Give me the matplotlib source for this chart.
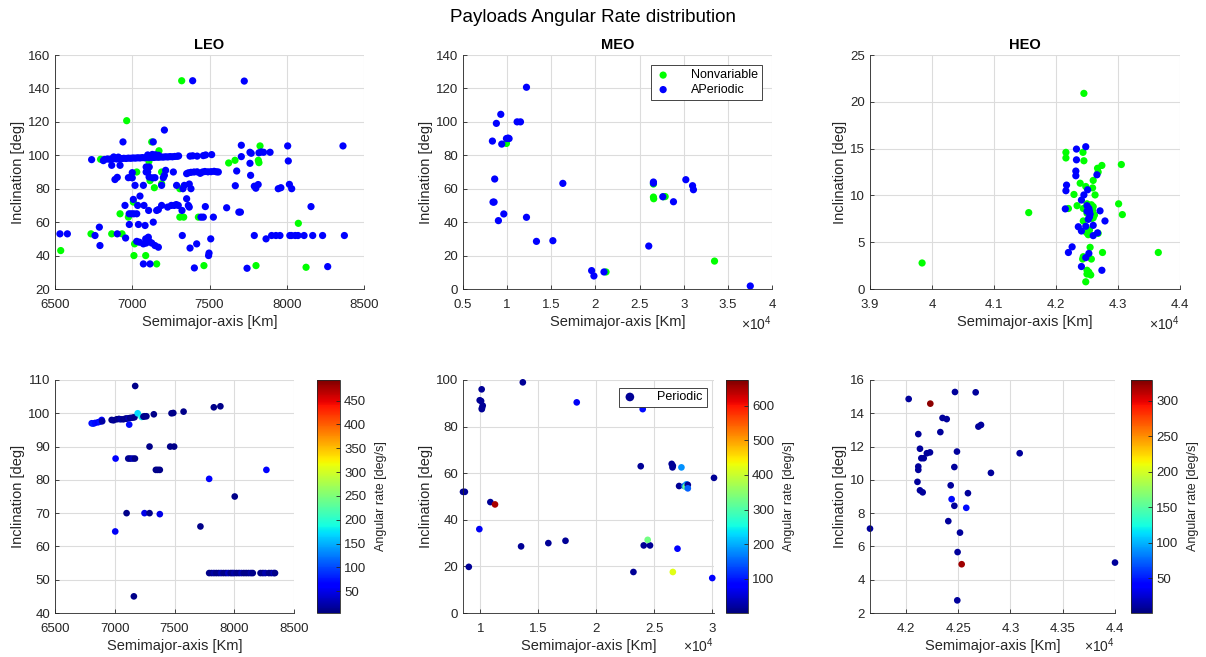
import numpy as np
import matplotlib
matplotlib.use('Agg')
import matplotlib.pyplot as plt
from matplotlib.ticker import FuncFormatter

plt.rcParams['font.family'] = ['Liberation Sans', 'DejaVu Sans']
plt.rcParams['mathtext.fontset'] = 'custom'
plt.rcParams['mathtext.rm'] = 'Liberation Sans'
plt.rcParams['mathtext.it'] = 'Liberation Sans'

# ---- data : (semimajor axis [km], inclination [deg]) ----
leo_nonvar = np.array([
    (7320, 144.6), (6964, 120.7), (6537, 43), (6733, 53), (6795, 97.6), (6867, 53), (6921, 65),
    (6934, 53), (6975, 63), (7011, 40), (7015, 47), (7007, 72), (7029, 90), (7087, 40), (7126, 108),
    (7108, 96.4), (7115, 84.8), (7158, 35), (7143, 80.6), (7173, 102.7), (7190, 90), (7190, 83),
    (7308, 80), (7308, 63), (7333, 63), (7428, 63), (7464, 34), (7624, 95.4), (7665, 97),
    (7827, 105.6), (7816, 97), (7820, 95.6), (7801, 34), (8075, 59.3), (8125, 33)])

leo_aper = np.array([
    (6737, 97.4), (6813, 96.8), (6820, 97.5), (6840, 97.8), (6855, 97.6), (6870, 97.9), (6880, 99.0),
    (6885, 98.0), (6900, 97.8), (6910, 98.9), (6915, 98.1), (6930, 98.0), (6945, 98.2), (6960, 98.1),
    (6975, 98.3), (6990, 98.2), (7005, 98.4), (7020, 98.3), (7035, 98.5), (7050, 98.4), (7065, 98.6),
    (7080, 98.5), (7095, 98.7), (7100, 100.2), (7110, 98.6), (7125, 98.8), (7130, 100.5),
    (7140, 98.7), (7150, 100.3), (7155, 98.9), (7170, 98.8), (7170, 100.0), (7185, 99.0),
    (7200, 98.9), (7215, 99.1), (7230, 99.0), (7245, 99.2), (7260, 99.1), (7275, 99.3),
    (7290, 99.4), (7300, 99.6),
    (7352, 89.0), (7363, 89.5), (7380, 89.8), (7400, 90.0), (7420, 90.1), (7440, 89.2), (7455, 90.0),
    (7470, 90.3), (7490, 90.1), (7510, 90.2), (7530, 90.4), (7545, 90.1), (7557, 90.0),
    (7374, 99.5), (7391, 99.7), (7420, 99.5), (7460, 99.8), (7475, 100.2), (7514, 100.4),
    (7391, 144.6), (7725, 144.4), (7208, 115.1), (6940, 108), (7136, 108), (8364, 105.6),
    (7706, 106), (8006, 105.6), (7762, 101.8), (7770, 101.2), (7820, 101.5), (7835, 102),
    (7850, 101.8), (7892, 101.8), (7706, 99.2), (8010, 96.6), (7762, 95.2), (7766, 88),
    (7790, 81.5), (7800, 80.3), (7815, 82.5), (7945, 80), (7962, 80.6), (8017, 82.6), (8032, 80),
    (7667, 81.8), (7676, 90.6), (7690, 66), (7700, 66), (7611, 68.6), (8157, 69.3),
    (8373, 52), (8232, 52), (8168, 52), (8112, 52), (8073, 52), (8055, 52), (8030, 52), (8020, 52),
    (7956, 52), (7930, 52), (7902, 52), (7866, 50), (7790, 52),
    (7743, 32.4), (8265, 33.4), (7508, 50), (7494, 40), (7497, 41.5), (7417, 47), (7374, 44.5),
    (7402, 32.6), (7324, 52), (7525, 63), (7473, 69.3), (7445, 63), (7460, 63), (7363, 70),
    (7369, 69), (7352, 74), (7322, 67), (7229, 69), (7253, 70), (7272, 70), (7285, 70.5),
    (7298, 70), (7190, 70), (7158, 67), (7169, 67.5), (7106, 67), (7136, 60), (7076, 70),
    (6953, 70), (7050, 75.6), (7007, 73.6), (7035, 70), (7018, 82), (7072, 82), (6980, 65),
    (6995, 65), (7010, 65), (7029, 65), (6981, 58.6), (7040, 58.6), (7083, 58), (6787, 57),
    (6759, 52), (6791, 46), (6532, 53), (6580, 53), (6903, 53), (6957, 50.5), (7029, 48.5),
    (7046, 48), (7072, 47), (7090, 47.5), (7110, 48.5), (7126, 47.5), (7147, 46), (7169, 45),
    (7087, 50), (7104, 51), (7072, 35), (7115, 35), (7100, 90), (7110, 93), (7109, 87),
    (7132, 86.5), (7147, 86.6), (7201, 86.6), (6975, 86.6), (6990, 86.8), (7000, 86.5),
    (6888, 85.5), (6903, 86.8), (6867, 94), (6921, 94), (7190, 82), (7216, 91), (7208, 88),
    (7266, 90), (7287, 82), (7337, 82), (7328, 80), (7369, 82.8), (7380, 80), (7000, 89.6),
    (7090, 93), (7090, 90)])

meo_nonvar = np.array([
    (9920, 87.1), (26570, 62.8), (26570, 55), (26600, 54), (27700, 55.2), (27900, 55.3),
    (21200, 10.2), (33490, 16.7)])

meo_aper = np.array([
    (12190, 120.7), (9280, 104.5), (8780, 99.1), (11130, 100), (11510, 100), (8330, 88.5),
    (9390, 86.7), (9920, 90), (10220, 90), (10100, 90.3), (8590, 65.8), (8400, 52), (8520, 52),
    (9620, 44.9), (9010, 40.9), (12190, 42.9), (13320, 28.5), (15180, 28.9), (16310, 63.2),
    (19570, 11), (19830, 7.8), (20970, 10.2), (26040, 25.7), (26570, 64), (26570, 63.3),
    (27630, 55.2), (28840, 52.2), (30240, 65.4), (31000, 61.8), (31100, 59.4), (37540, 1.8)])

heo_nonvar = np.array([
    (39840, 2.78), (41560, 8.16), (42450, 20.9), (42160, 14.6), (42160, 14.0), (42435, 14.6),
    (42450, 13.7), (42740, 13.2), (42670, 12.9), (42680, 12.5), (43054, 13.3), (42200, 8.6),
    (42290, 10.1), (42340, 8.9), (42390, 11.3), (42480, 10.95), (42600, 11.6), (42590, 10.8),
    (42630, 10.05), (42570, 9.0), (42590, 8.4), (42550, 8.0), (42580, 7.55), (42440, 7.27),
    (42490, 6.05), (42520, 5.8), (42680, 5.95), (42550, 4.45), (42750, 3.9), (42440, 3.45),
    (42430, 3.2), (42570, 3.2), (42500, 2.0), (42530, 1.8), (42500, 1.6), (42560, 1.5),
    (42480, 0.77), (43010, 9.1), (43070, 7.95), (43650, 3.9), (42440, 8.6), (42500, 9.1),
    (42600, 8.8), (42620, 7.9), (42600, 7.6), (42500, 8.1), (42540, 6.3)])

heo_aper = np.array([
    (42480, 15.2), (42330, 14.95), (42330, 13.8), (42320, 12.6), (42320, 12.1), (42660, 12.2),
    (42170, 11.1), (42160, 10.5), (42510, 10.6), (42450, 10.05), (42410, 9.5), (42150, 8.56),
    (42500, 8.9), (42530, 8.6), (42540, 8.3), (42500, 8.3), (42550, 8.0), (42540, 7.7),
    (42710, 8.35), (42790, 7.27), (42520, 7.44), (42360, 6.65), (42410, 6.2), (42480, 6.7),
    (42600, 6.8), (42600, 5.7), (42670, 6.0), (42260, 4.5), (42200, 3.9), (42530, 3.8),
    (42480, 3.35), (42410, 2.4), (42740, 2.0)])

# periodic objects : (semimajor axis [km], inclination [deg], angular rate [deg/s])
leo_per = np.array([
    (6807, 97.0, 70), (6820, 96.9, 80), (6835, 97.1, 70), (6860, 97.3, 60), (6877, 97.5, 75),
    (6891, 98.0, 65), (6895, 97.6, 20), (6974, 98.0, 10), (6990, 97.9, 15), (7016, 98.2, 10),
    (7035, 98.3, 12), (7050, 98.2, 20), (7072, 98.2, 10), (7090, 98.4, 15), (7100, 98.4, 10),
    (7115, 98.5, 25), (7130, 98.6, 10), (7150, 98.7, 15), (7165, 98.8, 10), (7121, 96.6, 70),
    (7192, 100.0, 170), (7225, 98.9, 185), (7240, 99.0, 15), (7250, 99.1, 10), (7265, 99.1, 12),
    (7327, 99.7, 10), (7475, 100.0, 10), (7490, 100.1, 10), (7576, 100.5, 10), (7829, 101.8, 10),
    (7884, 102.1, 10), (7171, 108.2, 10), (7291, 90.0, 10), (7464, 90.0, 10), (7497, 90.0, 10),
    (7007, 86.4, 60), (7113, 86.4, 15), (7130, 86.4, 10), (7150, 86.4, 30), (7169, 86.4, 10),
    (7344, 83.0, 10), (7360, 83.0, 10), (7377, 83.0, 10), (8269, 83.0, 60), (7790, 80.3, 60),
    (8004, 75.0, 10), (7099, 70.0, 10), (7249, 70.0, 50), (7291, 70.0, 10), (7377, 69.7, 50),
    (7004, 64.5, 55), (7717, 66.0, 10), (7160, 45.0, 10),
    (7790, 52, 10), (7810, 52, 10), (7830, 52, 20), (7850, 52, 10), (7870, 52, 10), (7890, 52, 25),
    (7910, 52, 10), (7930, 52, 10), (7950, 52, 30), (7970, 52, 10), (7985, 52, 10), (8000, 52, 20),
    (8020, 52, 10), (8040, 52, 10), (8060, 52, 25), (8080, 52, 10), (8100, 52, 10), (8120, 52, 10),
    (8140, 52, 20), (8155, 52, 10), (8220, 52, 10), (8240, 52, 10), (8260, 52, 25), (8290, 52, 10),
    (8310, 52, 10), (8330, 52, 30), (8341, 52, 10)])

meo_per = np.array([
    (13660, 99, 15), (10110, 96, 15), (9940, 91.3, 15), (10060, 91, 15), (10200, 89, 15),
    (10140, 88, 15), (10120, 87.5, 15), (18310, 90.4, 70), (24000, 87.5, 90), (8500, 52, 15),
    (8660, 52, 15), (10860, 47.6, 15), (11260, 46.6, 650), (9910, 36, 70), (9000, 19.8, 15),
    (13510, 28.6, 15), (15860, 30, 15), (17340, 31, 15), (23200, 17.6, 15), (24090, 29, 15),
    (24630, 29, 15), (24430, 31.4, 330), (23830, 63, 15), (26500, 64, 15), (26600, 63.2, 15),
    (26570, 62.5, 15), (27340, 62.5, 180), (27140, 54.5, 15), (27600, 54.5, 150),
    (27770, 55.2, 180), (27700, 54.2, 320), (27890, 55, 15), (27890, 53.5, 150),
    (26600, 17.6, 420), (27000, 27.6, 75), (30000, 15, 75), (30150, 58, 15)])

heo_per = np.array([
    (41656, 7.07, 10), (42026, 14.86, 10), (42233, 14.58, 325), (42469, 15.28, 10),
    (42667, 15.26, 10), (42350, 13.72, 10), (42390, 13.65, 10), (42329, 12.87, 10),
    (42118, 12.75, 10), (42693, 13.2, 10), (42718, 13.3, 10), (42134, 11.87, 10),
    (42200, 11.6, 10), (42230, 11.65, 10), (42147, 11.3, 10), (42170, 11.3, 10),
    (42118, 10.8, 10), (42118, 10.6, 10), (42110, 9.88, 10), (42134, 9.37, 10),
    (42160, 9.25, 10), (42488, 11.7, 10), (42463, 10.77, 10), (43088, 11.6, 10),
    (42813, 10.42, 10), (42428, 9.67, 10), (42437, 8.84, 45), (42593, 9.2, 10),
    (42463, 8.44, 10), (42577, 8.32, 45), (42405, 7.52, 10), (42517, 6.83, 10),
    (42494, 5.66, 10), (42533, 4.93, 320), (42491, 2.76, 10), (44000, 5.03, 10)])

# colour limits of the colorbars
leo_clim = (4.5, 493)
meo_clim = (0.4, 675)
heo_clim = (1.3, 329)

W, H = 1206, 657
fig = plt.figure(figsize=(W / 100, H / 100), dpi=100)
dark = '#262626'


def px_axes(left, top, right, bottom):
    return fig.add_axes([left / W, 1 - bottom / H, (right - left) / W, (bottom - top) / H])


def style(ax, xlim, ylim, xticks, yticks, scaled=False, offset_y=-0.15):
    ax.set_xlim(xlim)
    ax.set_ylim(ylim)
    ax.set_xticks(xticks)
    ax.set_yticks(yticks)
    for s in ['top', 'right']:
        ax.spines[s].set_visible(False)
    for s in ['left', 'bottom']:
        ax.spines[s].set_color(dark)
        ax.spines[s].set_linewidth(0.6)
    ax.tick_params(direction='in', length=3, width=0.6, colors=dark, labelsize=9.5)
    ax.tick_params(axis='x', pad=7)
    ax.tick_params(axis='y', pad=3.5)
    ax.grid(True, color='#dcdcdc', linewidth=0.8)
    ax.set_axisbelow(True)
    ax.set_xlabel('Semimajor-axis [Km]', fontsize=10.5, color=dark, labelpad=3)
    ax.set_ylabel('Inclination [deg]', fontsize=10.5, color=dark, labelpad=2)
    if scaled:
        ax.xaxis.set_major_formatter(FuncFormatter(lambda v, p: '%g' % round(v / 1e4, 4)))
        ax.text(1.0, offset_y, r'$\times\mathregular{10^{4}}$', transform=ax.transAxes,
                ha='right', va='center', fontsize=10, color=dark)


green = '#00ff00'
blue = '#0000ff'
s_top = 27
s_bot = 23

# ---- top row ----
ax1 = px_axes(55, 55, 364, 289)
ax1.scatter(leo_nonvar[:, 0], leo_nonvar[:, 1], s=s_top, c=green, edgecolors='none', clip_on=False)
ax1.scatter(leo_aper[:, 0], leo_aper[:, 1], s=s_top, c=blue, edgecolors='none', clip_on=False)
style(ax1, (6500, 8500), (20, 160), range(6500, 8501, 500), range(20, 161, 20))
ax1.set_title('LEO', fontsize=10.5, fontweight='bold', color='black', pad=4)

ax2 = px_axes(463, 55, 772, 289)
ax2.scatter(meo_nonvar[:, 0], meo_nonvar[:, 1], s=s_top, c=green, edgecolors='none',
            clip_on=False, label='Nonvariable')
ax2.scatter(meo_aper[:, 0], meo_aper[:, 1], s=s_top, c=blue, edgecolors='none',
            clip_on=False, label='APeriodic')
style(ax2, (5000, 40000), (0, 140), range(5000, 40001, 5000), range(0, 141, 20), scaled=True)
ax2.set_title('MEO', fontsize=10.5, fontweight='bold', color='black', pad=4)
leg = ax2.legend(loc='upper right', fontsize=9, fancybox=False, edgecolor=dark, framealpha=1,
                 borderaxespad=0.8, handletextpad=1.6, borderpad=0.35, labelspacing=0.2,
                 handlelength=1.2)
leg.get_frame().set_linewidth(0.6)

ax3 = px_axes(870, 55, 1180, 289)
ax3.scatter(heo_nonvar[:, 0], heo_nonvar[:, 1], s=s_top, c=green, edgecolors='none', clip_on=False)
ax3.scatter(heo_aper[:, 0], heo_aper[:, 1], s=s_top, c=blue, edgecolors='none', clip_on=False)
style(ax3, (39000, 44000), (0, 25), range(39000, 44001, 1000), range(0, 26, 5), scaled=True)
ax3.set_title('HEO', fontsize=10.5, fontweight='bold', color='black', pad=4)


# ---- bottom row (periodic, coloured by angular rate) ----
def bottom(left, right, cb_left, cb_right, data, clim, xlim, ylim, xticks, yticks, cticks,
           scaled, legend=False):
    ax = px_axes(left, 380, right, 613)
    sc = ax.scatter(data[:, 0], data[:, 1], s=s_bot, c=data[:, 2], cmap='jet',
                    vmin=clim[0], vmax=clim[1], edgecolors='none', clip_on=False,
                    label='Periodic')
    style(ax, xlim, ylim, xticks, yticks, scaled=scaled, offset_y=-0.14)
    if legend:
        lg = ax.legend(loc='upper right', fontsize=9, fancybox=False, edgecolor=dark,
                       framealpha=1, borderaxespad=0.6, handletextpad=1.6, markerscale=1.3,
                       borderpad=0.3, handlelength=1.2, bbox_to_anchor=(1.0, 1.0))
        lg.get_frame().set_linewidth(0.6)
    cax = px_axes(cb_left, 380, cb_right, 613)
    cb = fig.colorbar(sc, cax=cax, ticks=cticks)
    cb.outline.set_linewidth(0.6)
    cb.outline.set_edgecolor(dark)
    cax.tick_params(direction='in', length=3, width=0.6, colors=dark, labelsize=9.5, pad=3)
    cb.set_label('Angular rate [deg/s]', fontsize=9, color=dark, labelpad=6)
    return ax


bottom(55, 294, 317, 340, leo_per, leo_clim, (6500, 8500), (40, 110),
       range(6500, 8501, 500), range(40, 111, 10), range(50, 451, 50), False)
bottom(463, 714, 726, 748, meo_per, meo_clim, (8500, 30150), (0, 100),
       range(10000, 30001, 5000), range(0, 101, 20), range(100, 601, 100), True, legend=True)
bottom(870, 1115, 1131, 1152, heo_per, heo_clim, (41656, 44000), (2, 16),
       np.arange(42000, 44001, 500), range(2, 17, 2), range(50, 301, 50), True)

fig.text(0.492, 1 - 17 / H, 'Payloads Angular Rate distribution', ha='center', va='center',
         fontsize=13.5, color='black')

fig.savefig('out.png', dpi=100)
